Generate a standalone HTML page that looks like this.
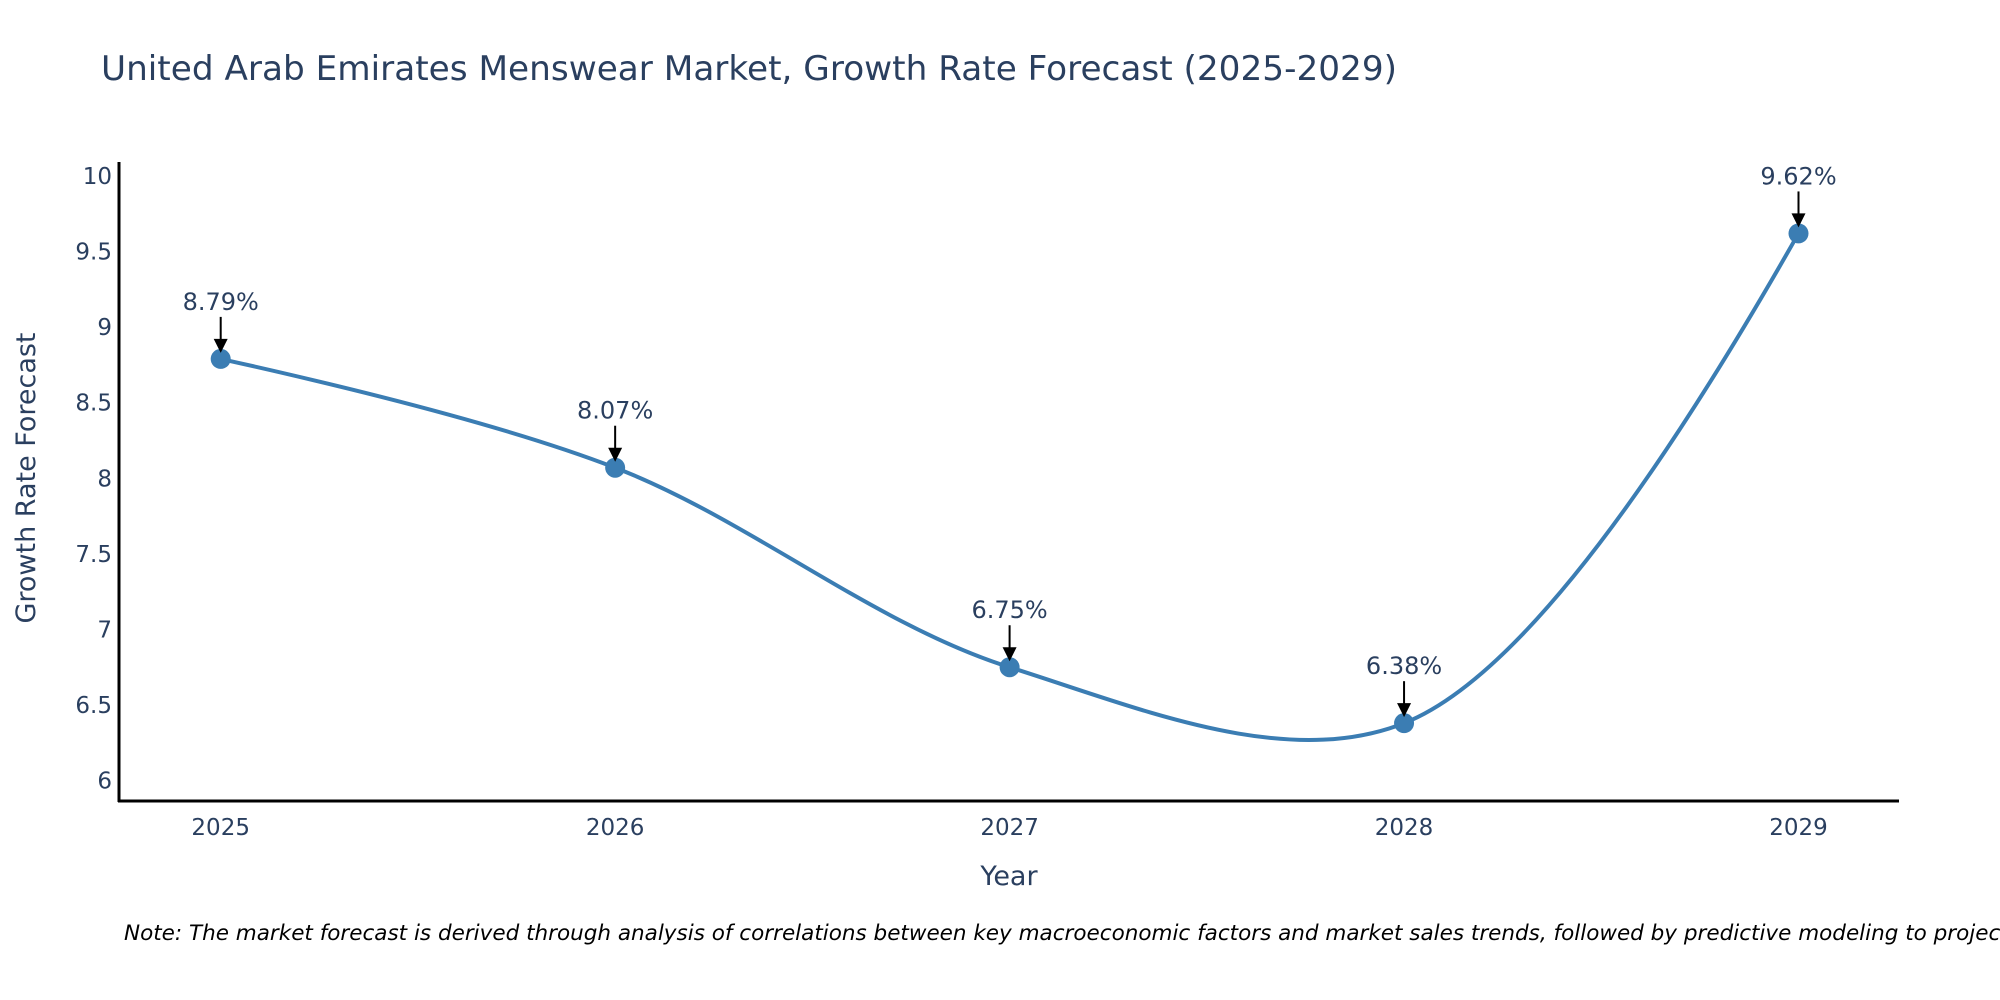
<!DOCTYPE html>
<html><head><meta charset="utf-8"><style>
html,body{margin:0;padding:0;background:#fff;}
svg{display:block;}
</style></head><body>
<svg id="chart" width="2000" height="1000" viewBox="0 0 2000 1000" xmlns="http://www.w3.org/2000/svg" style="overflow:hidden">
<text x="101" y="80" font-family="DejaVu Sans, sans-serif" font-size="34" fill="#2a3f5f" textLength="1296" lengthAdjust="spacingAndGlyphs">United Arab Emirates Menswear Market, Growth Rate Forecast (2025-2029)</text>
<g id="yticks"></g>
<g id="xticks"></g>
<line x1="119" y1="162" x2="119" y2="802" stroke="#000" stroke-width="3"/>
<line x1="118" y1="801" x2="1899" y2="801" stroke="#000" stroke-width="3"/>
<text transform="translate(35,478) rotate(-90)" text-anchor="middle" font-family="DejaVu Sans, sans-serif" font-size="27" fill="#2a3f5f">Growth Rate Forecast</text>
<text x="1009" y="885" text-anchor="middle" font-family="DejaVu Sans, sans-serif" font-size="27" fill="#2a3f5f">Year</text>
<g id="series"></g>
<g id="annots"></g>
<text x="124" y="940" font-family="DejaVu Sans, sans-serif" font-style="italic" font-size="21.5" fill="#000">Note: The market forecast is derived through analysis of correlations between key macroeconomic factors and market sales trends, followed by predictive modeling to project future sales.</text>
</svg>
<script>
const years = [2025, 2026, 2027, 2028, 2029];
const values = [8.79, 8.07, 6.75, 6.38, 9.62];
const valueLabels = ["8.79%", "8.07%", "6.75%", "6.38%", "9.62%"];
const yTicks = [6, 6.5, 7, 7.5, 8, 8.5, 9, 9.5, 10];
const yTickLabels = ["6", "6.5", "7", "7.5", "8", "8.5", "9", "9.5", "10"];

const NS = "http://www.w3.org/2000/svg";
const X0 = 220.7, X1 = 1798.5;
const xScale = v => X0 + (v - years[0]) / (years[years.length - 1] - years[0]) * (X1 - X0);
const yScale = v => 780.6 - (v - 6) / 4 * (780.6 - 176);

function mk(tag, attrs, parent) {
  const el = document.createElementNS(NS, tag);
  for (const k in attrs) el.setAttribute(k, attrs[k]);
  parent.appendChild(el);
  return el;
}

const yg = document.getElementById('yticks');
yTicks.forEach((t, i) => {
  const el = mk('text', {x: 112, y: yScale(t) + 8, 'text-anchor': 'end', 'font-family': 'DejaVu Sans, sans-serif', 'font-size': 23, fill: '#2a3f5f'}, yg);
  
  
  el.textContent = yTickLabels[i];
});
const xg = document.getElementById('xticks');
years.forEach(y => {
  const el = mk('text', {x: xScale(y), y: 835, 'text-anchor': 'middle', 'font-family': 'DejaVu Sans, sans-serif', 'font-size': 23, fill: '#2a3f5f'}, xg);
  
  
  el.textContent = String(y);
});

const pts = years.map((y, i) => [xScale(y), yScale(values[i])]);
function tangent(p, t, n, s) {
  const d1x = p[0] - t[0], d1y = p[1] - t[1], d2x = n[0] - t[0], d2y = n[1] - t[1];
  const d1a = Math.pow(d1x * d1x + d1y * d1y, 0.25), d2a = Math.pow(d2x * d2x + d2y * d2y, 0.25);
  const numx = (d2a * d2a * d1x - d1a * d1a * d2x) * s, numy = (d2a * d2a * d1y - d1a * d1a * d2y) * s;
  const den1 = 3 * d2a * (d1a + d2a), den2 = 3 * d1a * (d1a + d2a);
  return [[t[0] + numx / den1, t[1] + numy / den1], [t[0] - numx / den2, t[1] - numy / den2]];
}
const tg = [];
for (let i = 1; i < pts.length - 1; i++) tg.push(tangent(pts[i - 1], pts[i], pts[i + 1], 1));
let d = 'M' + pts[0] + 'Q' + tg[0][0] + ' ' + pts[1];
for (let i = 2; i < pts.length - 1; i++) d += 'C' + tg[i - 2][1] + ' ' + tg[i - 1][0] + ' ' + pts[i];
d += 'Q' + tg[pts.length - 3][1] + ' ' + pts[pts.length - 1];
const sg = document.getElementById('series');
const line = mk('path', {d: d, fill: 'none', stroke: '#3b7db3', 'stroke-width': 4}, sg);


pts.forEach(p => {
  const c = mk('circle', {cx: p[0], cy: p[1], r: 10, fill: '#3b7db3'}, sg);
  
  
});

const ag = document.getElementById('annots');
pts.forEach((p, i) => {
  const l = mk('line', {x1: p[0], y1: p[1] - 42, x2: p[0], y2: p[1] - 18, stroke: '#000', 'stroke-width': 2}, ag);
  
  
  const h = mk('path', {d: `M${p[0] - 7},${p[1] - 20} L${p[0] + 7},${p[1] - 20} L${p[0]},${p[1] - 6} Z`, fill: '#000'}, ag);
  
  
  const t = mk('text', {x: p[0], y: p[1] - 49, 'text-anchor': 'middle', 'font-family': 'DejaVu Sans, sans-serif', 'font-size': 24, fill: '#2a3f5f'}, ag);
  
  
  t.textContent = valueLabels[i];
});
</script>
</body></html>
